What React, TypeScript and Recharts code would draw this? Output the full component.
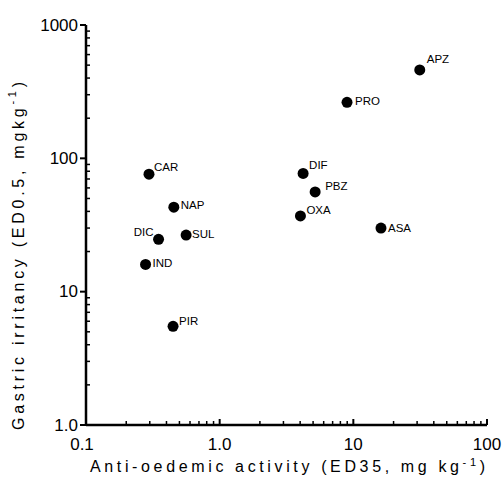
import { ScatterChart, Scatter, XAxis, YAxis, Label } from "recharts";

const drugs = ["APZ", "PRO", "CAR", "DIF", "PBZ", "NAP", "OXA", "ASA", "DIC", "SUL", "IND", "PIR"];
const antiOedemic = [31.4, 8.97, 0.296, 4.21, 5.18, 0.454, 4.02, 16.1, 0.349, 0.561, 0.279, 0.448];
const gastricIrritancy = [460, 263, 76, 77, 56, 43, 37, 30, 24.7, 26.6, 16, 5.5];

const xTicks = [0.1, 0.2, 0.3, 0.4, 0.5, 0.6, 0.7, 0.8, 0.9, 1, 2, 3, 4, 5, 6, 7, 8, 9, 10, 20, 30, 40, 50, 60, 70, 80, 90, 100];
const yTicks = [1, 2, 3, 4, 5, 6, 7, 8, 9, 10, 20, 30, 40, 50, 60, 70, 80, 90, 100, 200, 300, 400, 500, 600, 700, 800, 900, 1000];
const xTickLabels: Record<string, string> = { "0.1": "0.1", "1": "1.0", "10": "10", "100": "100" };
const yTickLabels: Record<string, string> = { "1": "1.0", "10": "10", "100": "100", "1000": "1000" };

// where each drug name sits relative to its dot
const labelOffsets: Record<string, [number, number]> = {
  APZ: [7, -7], PRO: [8, 3], CAR: [5, -3], DIF: [6, -4], PBZ: [10, -2], NAP: [7, 2],
  OXA: [6, -2], ASA: [7, 4], DIC: [-5, -3], SUL: [6, 3], IND: [7, 3], PIR: [6, -1],
};

const points = drugs.map((name, i) => ({ name, x: antiOedemic[i], y: gastricIrritancy[i] }));

const font = "'Liberation Sans', Arial, sans-serif";

const XTick = (props: any) => {
  const { x, y, payload } = props;
  const label = xTickLabels[String(payload.value)];
  if (label) {
    return (
      <g>
        <line x1={x} x2={x} y1={y} y2={y - 6} stroke="#000" strokeWidth={2} />
        <text x={label === "0.1" ? x - 4 : x} y={y + 25} textAnchor="middle" fontSize={17} fontFamily={font} fill="#000">{label}</text>
      </g>
    );
  }
  return <line x1={x} x2={x} y1={y} y2={y - 4} stroke="#000" strokeWidth={1.5} />;
};

const YTick = (props: any) => {
  const { x, y, payload } = props;
  const label = yTickLabels[String(payload.value)];
  if (label) {
    return (
      <g>
        <line x1={x - 6} x2={x} y1={y} y2={y} stroke="#000" strokeWidth={2} />
        <text x={x - 8} y={y} textAnchor="end" dominantBaseline="central" fontSize={17} fontFamily={font} fill="#000">{label}</text>
      </g>
    );
  }
  return <line x1={x} x2={x + 4} y1={y} y2={y} stroke="#000" strokeWidth={1.5} />;
};

const Dot = (p: any) => {
  const [dx, dy] = labelOffsets[p.payload.name] || [6, 0];
  return (
    <g>
      <circle cx={p.cx} cy={p.cy} r={5.5} fill="#000" />
      <text x={p.cx + dx} y={p.cy + dy} textAnchor={dx < 0 ? "end" : "start"} fontSize={11.5} fontFamily={font} fill="#000">
        {p.payload.name}
      </text>
    </g>
  );
};

const XTitle = (props: any) => {
  const vb = props.viewBox;
  return (
    <text x={vb.x + vb.width / 2 + 1} y={vb.y + 47} textAnchor="middle" fontSize={16} fontFamily={font} fill="#000" textLength={395} lengthAdjust="spacing">
      Anti-oedemic activity (ED35, mg kg<tspan dy={-6} fontSize={11}>-1</tspan><tspan dy={6}>)</tspan>
    </text>
  );
};

const YTitle = (props: any) => {
  const vb = props.viewBox;
  const cx = 18;
  const cy = vb.y + vb.height / 2 + 31;
  return (
    <text x={cx} y={cy} transform={`rotate(-90 ${cx} ${cy})`} textAnchor="middle" dominantBaseline="central" fontSize={16} fontFamily={font} fill="#000" textLength={348} lengthAdjust="spacing">
      Gastric irritancy (ED0.5, mgkg<tspan dy={-6} fontSize={11}>-1</tspan><tspan dy={6}>)</tspan>
    </text>
  );
};

export default function App() {
  return (
    <div style={{ position: "absolute", left: 0, top: 0, background: "#fff" }}>
      <ScatterChart width={503} height={479} margin={{ top: 25, right: 16, bottom: 0, left: 0 }}>
        <XAxis
          type="number"
          dataKey="x"
          scale="log"
          domain={[0.1, 100]}
          ticks={xTicks}
          interval={0}
          allowDataOverflow
          height={54}
          tickSize={0}
          tickMargin={0}
          tickLine={false}
          axisLine={{ stroke: "#000", strokeWidth: 2.5 }}
          tick={<XTick />}
        >
          <Label content={<XTitle />} />
        </XAxis>
        <YAxis
          type="number"
          dataKey="y"
          scale="log"
          domain={[1, 1000]}
          ticks={yTicks}
          interval={0}
          allowDataOverflow
          width={86}
          tickSize={0}
          tickMargin={0}
          tickLine={false}
          axisLine={{ stroke: "#000", strokeWidth: 2.5 }}
          tick={<YTick />}
        >
          <Label content={<YTitle />} />
        </YAxis>
        <Scatter data={points} shape={<Dot />} isAnimationActive={false} />
      </ScatterChart>
    </div>
  );
}
